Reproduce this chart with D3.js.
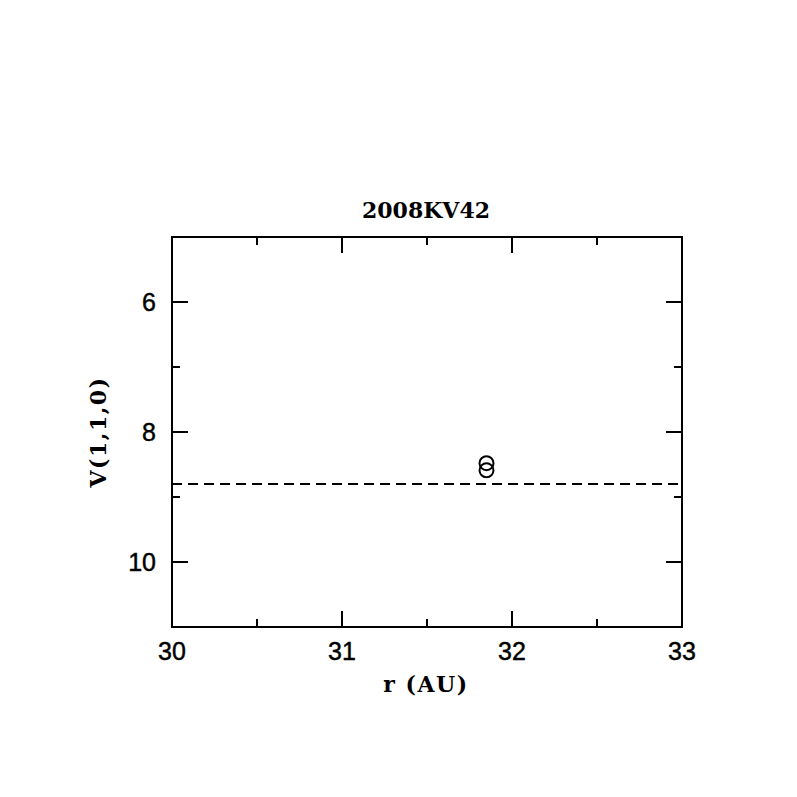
<!DOCTYPE html>
<html><head><meta charset="utf-8">
<script src="https://cdn.jsdelivr.net/npm/d3@7"></script>
<style>body{margin:0;background:#fff}</style>
</head><body>
<svg id="c" width="797" height="797"></svg>
<script>
const title = "2008KV42";
const xLabel = "r (AU)";
const yLabel = "V(1,1,0)";
const xDomain = [30, 33];
const yDomain = [5, 11];
const xMajorTicks = [30, 31, 32, 33];
const xMinorTicks = [30.5, 31.5, 32.5];
const yMajorTicks = [6, 8, 10];
const yMinorTicks = [5, 7, 9, 11];
const pointsR = [31.85, 31.85];
const pointsV = [8.48, 8.59];
const refLineV = 8.8;

const svg = d3.select("#c");
const L = 172, R = 682, T = 237, B = 627;
const x = d3.scaleLinear().domain(xDomain).range([L, R]);
const y = d3.scaleLinear().domain(yDomain).range([T, B]);
const sw = 2;

// frame
svg.append("rect").attr("x", L).attr("y", T).attr("width", R - L).attr("height", B - T)
  .attr("fill", "none").attr("stroke", "#000").attr("stroke-width", sw);

const maj = 16, mnr = 8;
function xt(vals, len) {
  vals.forEach(v => {
    svg.append("line").attr("x1", x(v)).attr("x2", x(v)).attr("y1", B).attr("y2", B - len).attr("stroke", "#000").attr("stroke-width", sw);
    svg.append("line").attr("x1", x(v)).attr("x2", x(v)).attr("y1", T).attr("y2", T + len).attr("stroke", "#000").attr("stroke-width", sw);
  });
}
function yt(vals, len) {
  vals.forEach(v => {
    svg.append("line").attr("x1", L).attr("x2", L + len).attr("y1", y(v)).attr("y2", y(v)).attr("stroke", "#000").attr("stroke-width", sw);
    svg.append("line").attr("x1", R).attr("x2", R - len).attr("y1", y(v)).attr("y2", y(v)).attr("stroke", "#000").attr("stroke-width", sw);
  });
}
xt(xMajorTicks, maj); xt(xMinorTicks, mnr);
yt(yMajorTicks, maj); yt(yMinorTicks, mnr);

const tickFont = "'Liberation Sans', Arial, sans-serif";
svg.selectAll(".xl").data(xMajorTicks).enter().append("text")
  .attr("x", d => x(d)).attr("y", 660).attr("text-anchor", "middle")
  .attr("font-family", tickFont).attr("font-size", 25)
  .attr("stroke", "#000").attr("stroke-width", 0.45).text(d => d);
svg.selectAll(".yl").data(yMajorTicks).enter().append("text")
  .attr("x", 156).attr("y", d => y(d) + 9).attr("text-anchor", "end")
  .attr("font-family", tickFont).attr("font-size", 25)
  .attr("stroke", "#000").attr("stroke-width", 0.45).text(d => d);

const labFont = "'DejaVu Serif', serif";
svg.append("text").attr("x", (L + R) / 2 - 1).attr("y", 218).attr("text-anchor", "middle")
  .attr("font-family", labFont).attr("font-weight", "bold").attr("font-size", 22).text(title);
svg.append("text").attr("x", (L + R) / 2 - 1).attr("y", 692).attr("text-anchor", "middle")
  .attr("font-family", labFont).attr("font-weight", "bold").attr("font-size", 22)
  .attr("letter-spacing", 1.5).text(xLabel);
svg.append("text").attr("transform", `translate(106,${(T + B) / 2}) rotate(-90)`).attr("text-anchor", "middle")
  .attr("font-family", labFont).attr("font-weight", "bold").attr("font-size", 22)
  .attr("letter-spacing", 1.5).text(yLabel);

// dashed line
svg.append("line").attr("x1", x(xDomain[0])).attr("x2", x(xDomain[1])).attr("y1", y(refLineV)).attr("y2", y(refLineV))
  .attr("stroke", "#000").attr("stroke-width", sw).attr("stroke-dasharray", "10,6");

// points
svg.selectAll(".pt").data(pointsR.map((r, i) => [r, pointsV[i]])).enter().append("circle")
  .attr("cx", d => x(d[0])).attr("cy", d => y(d[1])).attr("r", 7)
  .attr("fill", "none").attr("stroke", "#000").attr("stroke-width", 2);
</script>
</body></html>
